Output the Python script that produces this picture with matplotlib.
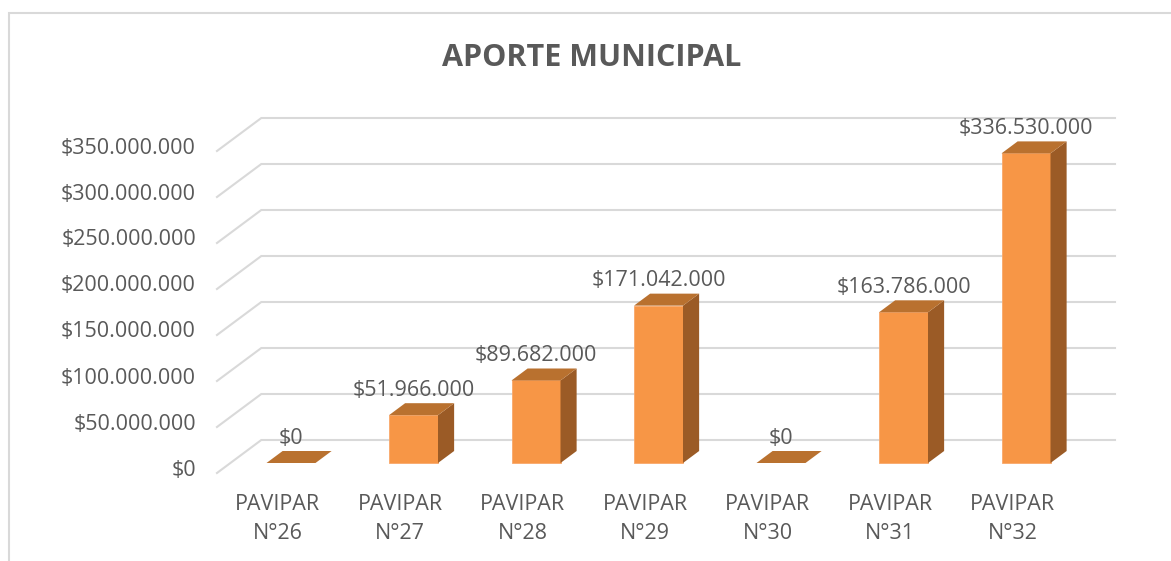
import matplotlib
matplotlib.use("Agg")
import matplotlib.pyplot as plt
from matplotlib.patches import Polygon, Rectangle

# --- data ---
categories = ["PAVIPAR\nN°26", "PAVIPAR\nN°27", "PAVIPAR\nN°28", "PAVIPAR\nN°29",
              "PAVIPAR\nN°30", "PAVIPAR\nN°31", "PAVIPAR\nN°32"]
values = [0, 51966000, 89682000, 171042000, 0, 163786000, 336530000]
yticks = [0, 50e6, 100e6, 150e6, 200e6, 250e6, 300e6, 350e6]
title = "APORTE MUNICIPAL"

def money(v):
    return "$" + f"{int(v):,}".replace(",", ".")

# --- styles / geometry (pixel based fake 3d) ---
W, H = 1171, 561
PX_CAT = 122.5            # pixels per category
PX_VAL = 46 / 50e6        # pixels per value unit
X0, Y0 = 291, 463         # pixel of category 0, value 0 (bar front)
SKEW = 43 / 32            # x shift per pixel of depth
FRONT = "#F79646"
TOP = "#B9712F"
SIDE = "#9B5B26"
TXT = "#595959"
GRID = "#D9D9D9"
FONT = "Open Sans"
FS = 15.5

fig = plt.figure(figsize=(W / 100, H / 100), dpi=100)
ax = fig.add_axes([0, 0, 1, 1])
ax.set_xlim(-X0 / PX_CAT, (W - X0) / PX_CAT)
ax.set_ylim((Y0 - H) / PX_VAL, Y0 / PX_VAL)
ax.axis("off")


def P(i, v, z=0.0):
    # z = depth in pixels (positive = further back / up)
    return (i + z * SKEW / PX_CAT, v + z / PX_VAL)


# chart frame
fig.patches.append(Rectangle((9 / W, -0.1), 1.2, (H - 13) / H + 0.1,
                             transform=fig.transFigure, fill=False,
                             edgecolor=GRID, linewidth=1.5))

# gridlines: floor from z=-10 (front) to z=23 (back)
wall_i = (230.4 - X0) / PX_CAT
right_i = (1115 - X0) / PX_CAT
for t in yticks:
    xa, ya = P(wall_i, t, -10)
    xb, yb = P(wall_i, t, 23)
    xc, yc = P(right_i - 23 * SKEW / PX_CAT, t, 23)
    ax.plot([xa, xb, xc], [ya, yb, yc], color=GRID, lw=1.5,
            solid_joinstyle="miter", zorder=1)
    tx, ty = (196 - X0) / PX_CAT, P(0, t, -10)[1] + 3 / PX_VAL
    ax.text(tx, ty, money(t), ha="right", va="center", fontsize=FS,
            color=TXT, family=FONT)

# bars
bw = 49 / PX_CAT
depth = 12
for i, v in enumerate(values):
    l, r = i - bw / 2, i + bw / 2
    if v > 0:
        ax.add_patch(Rectangle((l, 0), bw, v, facecolor=FRONT,
                               edgecolor="#F9A86A", lw=0.6, zorder=3))
        ax.add_patch(Polygon([P(r, 0), P(r, v), P(r, v, depth), P(r, 0, depth)],
                             closed=True, facecolor=SIDE, edgecolor="none", zorder=3))
    ax.add_patch(Polygon([P(l, v), P(r, v), P(r, v, depth), P(l, v, depth)],
                         closed=True, facecolor=TOP, edgecolor="none", zorder=3))
    lx, ly = P(i, v, depth + 13)
    ax.text(i, ly, money(v), ha="center", va="center", fontsize=FS,
            color=TXT, family=FONT, zorder=4)
    cx, cy = P(i, 0, -10)
    ax.text(cx, (Y0 - 519) / PX_VAL, categories[i], ha="center", va="center",
            fontsize=FS, color=TXT, family=FONT, linespacing=1.5)

fig.text(592 / W, 1 - 58 / H, title, ha="center", va="center", fontsize=22,
         fontweight="bold", color=TXT, family=FONT)

fig.savefig("out.png", dpi=100, facecolor="white")
